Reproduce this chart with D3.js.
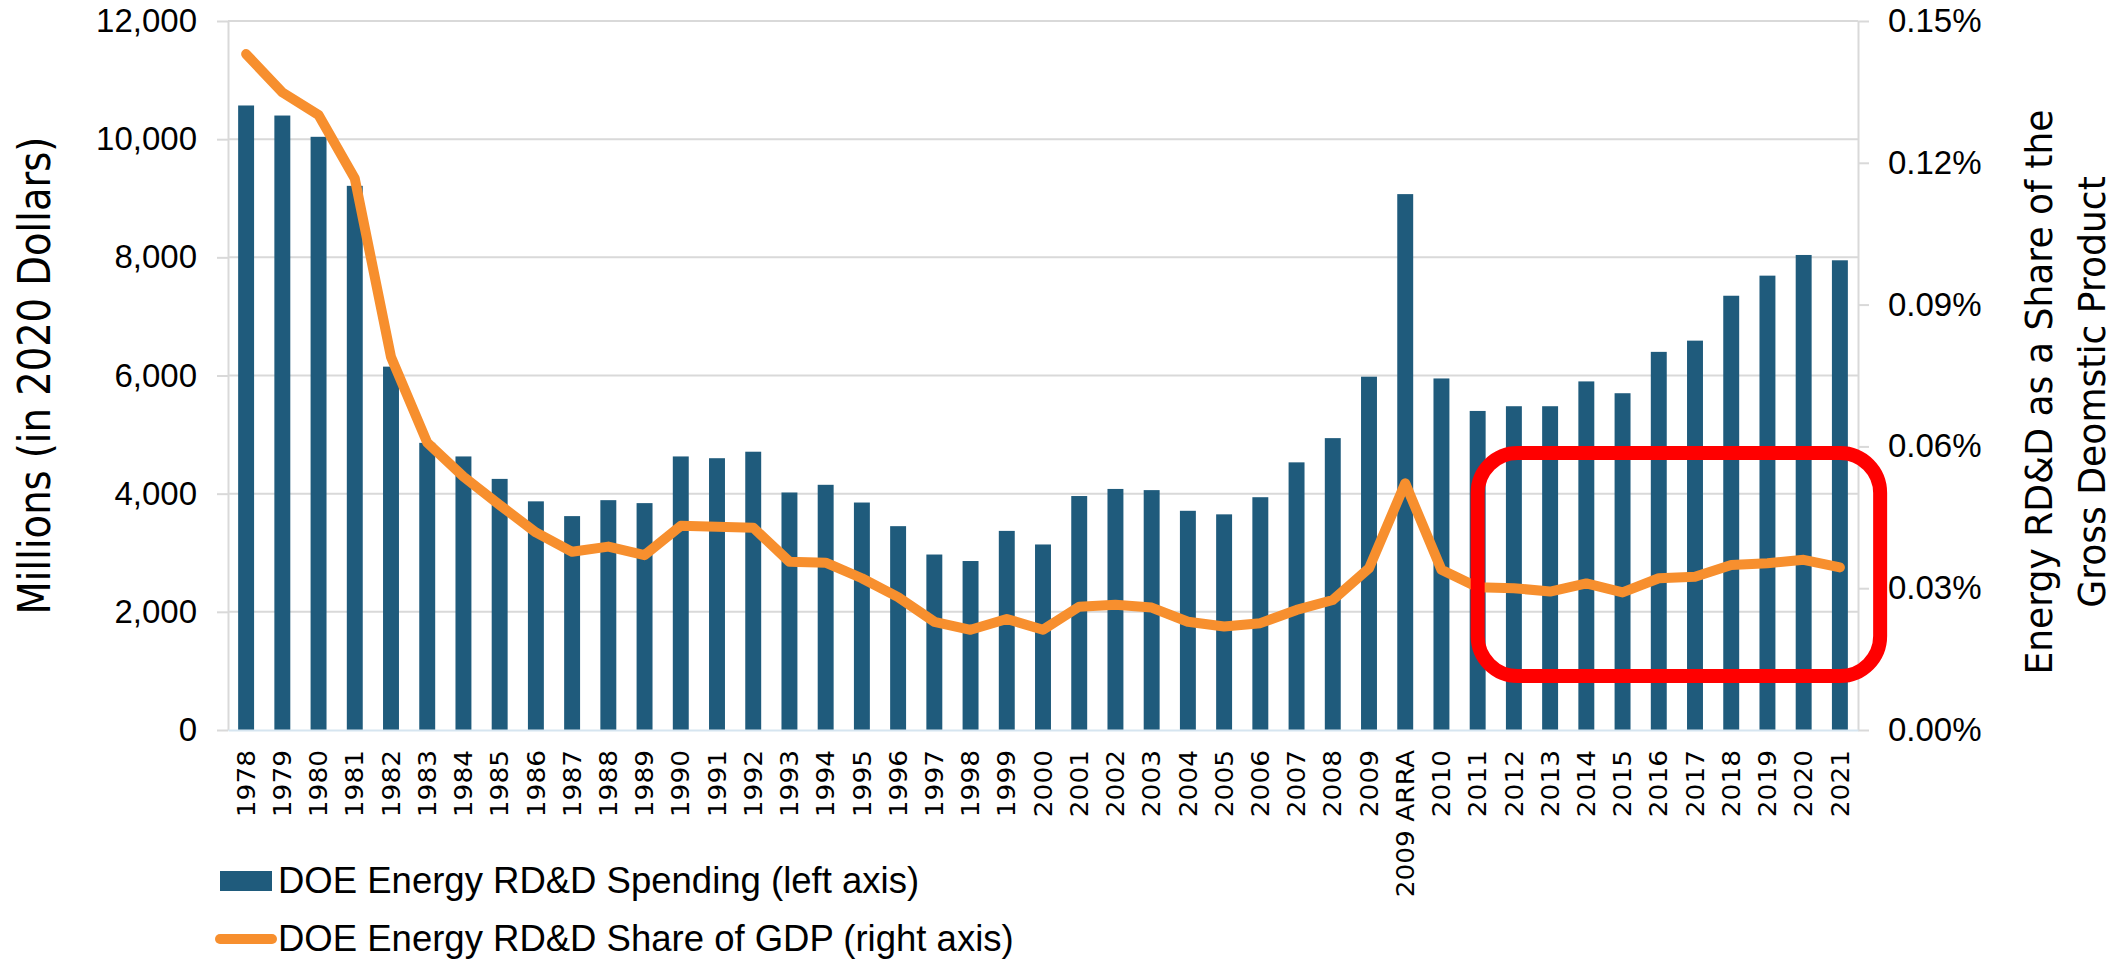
<!DOCTYPE html>
<html>
<head>
<meta charset="utf-8">
<script src="https://cdn.jsdelivr.net/npm/d3@7"></script>
<style>
  body { margin: 0; background: #fff; }
  .tick text { font-family: "Liberation Sans", Arial, sans-serif; font-size: 33px; fill: #000; }
  .xAxis .tick text { font-family: "DejaVu Sans", sans-serif; font-size: 24px; }
  .title { font-family: "DejaVu Sans", sans-serif; fill: #000; }
  .legend text { font-family: "Liberation Sans", Arial, sans-serif; font-size: 36.5px; fill: #000; }
</style>
</head>
<body>
<div id="chart"></div>
<script>
// categories (fiscal years, with the ARRA stimulus as its own column)
var years = ["1978", "1979", "1980", "1981", "1982", "1983", "1984", "1985", "1986", "1987",
  "1988", "1989", "1990", "1991", "1992", "1993", "1994", "1995", "1996", "1997",
  "1998", "1999", "2000", "2001", "2002", "2003", "2004", "2005", "2006", "2007",
  "2008", "2009", "2009 ARRA", "2010", "2011", "2012", "2013", "2014", "2015", "2016",
  "2017", "2018", "2019", "2020", "2021"];

// DOE energy RD&D spending, millions of 2020 dollars (left axis)
var spending = [10570, 10400, 10040, 9210, 6150, 4860, 4630, 4250, 3870, 3620,
  3890, 3840, 4630, 4600, 4710, 4020, 4150, 3850, 3450, 2970,
  2860, 3370, 3140, 3960, 4080, 4060, 3710, 3650, 3940, 4530,
  4940, 5980, 9070, 5950, 5400, 5480, 5480, 5900, 5700, 6400,
  6590, 7350, 7690, 8040, 7950];

// DOE energy RD&D as share of GDP, percent (right axis)
var gdpShare = [0.1430, 0.1349, 0.1301, 0.1167, 0.0789, 0.0608, 0.0536, 0.0476, 0.0418, 0.0377,
  0.0388, 0.0370, 0.0432, 0.0430, 0.0428, 0.0356, 0.0354, 0.0321, 0.0281, 0.0229,
  0.0212, 0.0235, 0.0212, 0.0261, 0.0265, 0.0259, 0.0229, 0.0219, 0.0226, 0.0254,
  0.0275, 0.0342, 0.0522, 0.0339, 0.0302, 0.0300, 0.0293, 0.0310, 0.0291, 0.0321,
  0.0324, 0.0349, 0.0353, 0.0360, 0.0344];

var leftTicks = [0, 2000, 4000, 6000, 8000, 10000, 12000];
var rightTicks = [0, 0.03, 0.06, 0.09, 0.12, 0.15];
var seriesNames = ["DOE Energy RD&D Spending (left axis)", "DOE Energy RD&D Share of GDP (right axis)"];
var leftTitle = "Millions (in 2020 Dollars)";
var rightTitle = ["Energy RD&D as a Share of the", "Gross Deomstic Product"];

// highlighted period (red box), in right-axis units
var highlight = { from: "2011", to: "2021", top: 0.0586, bottom: 0.0114 };

var Width = 2126;
var Height = 961;
var plotLeft = 228, plotRight = 1858, plotTop = 21, plotBottom = 730;

var barColor = "#1f5b7c";
var lineColor = "#f78f2e";
var gridColor = "#d9d9d9";

var svg = d3.select("#chart")
  .append("svg")
  .attr("width", Width)
  .attr("height", Height);

var x = d3.scaleBand()
  .domain(years)
  .range([plotLeft, plotRight])
  .paddingInner(0.56)
  .paddingOuter(0.28);

var yLeft = d3.scaleLinear().domain([0, 12000]).range([plotBottom, plotTop]);
var yRight = d3.scaleLinear().domain([0, 0.15]).range([plotBottom, plotTop]);

// gridlines
svg.append("g")
  .selectAll("line")
  .data(leftTicks.slice(1))
  .enter()
  .append("line")
  .attr("x1", plotLeft)
  .attr("x2", plotRight)
  .attr("y1", function(d) { return yLeft(d); })
  .attr("y2", function(d) { return yLeft(d); })
  .attr("stroke", gridColor)
  .attr("stroke-width", 2);

// left axis
var leftAxis = svg.append("g")
  .attr("class", "yAxis")
  .attr("transform", "translate(" + plotLeft + ",0)")
  .call(d3.axisLeft(yLeft).tickValues(leftTicks).tickFormat(d3.format(",")).tickSize(11).tickSizeOuter(0).tickPadding(20));
leftAxis.selectAll("line, path").attr("stroke", gridColor).attr("stroke-width", 2);

// right axis
var rightAxis = svg.append("g")
  .attr("class", "yAxis2")
  .attr("transform", "translate(" + plotRight + ",0)")
  .call(d3.axisRight(yRight).tickValues(rightTicks).tickSize(11).tickSizeOuter(0).tickPadding(19));
rightAxis.selectAll("text").text(function(d) { return d.toFixed(2) + "%"; });
rightAxis.selectAll("line, path").attr("stroke", gridColor).attr("stroke-width", 2);

// bars
svg.append("g")
  .selectAll("rect")
  .data(spending)
  .enter()
  .append("rect")
  .attr("x", function(d, i) { return x(years[i]); })
  .attr("y", function(d) { return yLeft(d); })
  .attr("width", x.bandwidth())
  .attr("height", function(d) { return yLeft(0) - yLeft(d); })
  .attr("fill", barColor);

// bottom axis
var xAxis = svg.append("g")
  .attr("class", "xAxis")
  .attr("transform", "translate(0," + plotBottom + ")")
  .call(d3.axisBottom(x).tickSize(0).tickSizeOuter(0));
xAxis.select("path").attr("stroke", "#d6e5f0").attr("stroke-width", 2);
xAxis.selectAll("text")
  .attr("x", 0)
  .attr("y", 0)
  .attr("dy", "0.36em")
  .attr("text-anchor", "end")
  .attr("transform", "rotate(-90) translate(-20,0) scale(1.1,1)");

// share of GDP line
var line = d3.line()
  .x(function(d, i) { return x(years[i]) + x.bandwidth() / 2; })
  .y(function(d) { return yRight(d); });

svg.append("path")
  .datum(gdpShare)
  .attr("d", line)
  .attr("fill", "none")
  .attr("stroke", lineColor)
  .attr("stroke-width", 10)
  .attr("stroke-linejoin", "round")
  .attr("stroke-linecap", "round");

// red highlight box
var boxLeft = x(highlight.from) + x.bandwidth() / 2;
var boxRight = x(highlight.to) + x.step() + 12;
svg.append("rect")
  .attr("x", boxLeft)
  .attr("y", yRight(highlight.top))
  .attr("width", boxRight - boxLeft)
  .attr("height", yRight(highlight.bottom) - yRight(highlight.top))
  .attr("rx", 40)
  .attr("ry", 40)
  .attr("fill", "none")
  .attr("stroke", "#ff0000")
  .attr("stroke-width", 14);

// axis titles
svg.append("text")
  .attr("class", "title")
  .attr("transform", "translate(50," + (plotTop + plotBottom) / 2 + ") rotate(-90) scale(0.875,1)")
  .attr("text-anchor", "middle")
  .attr("font-size", 44)
  .text(leftTitle);

svg.append("g")
  .selectAll("text")
  .data(rightTitle)
  .enter()
  .append("text")
  .attr("class", "title")
  .attr("transform", function(d, i) {
    return "translate(" + (2052 + i * 53) + ",392) rotate(-90) scale(0.95,1)";
  })
  .attr("text-anchor", "middle")
  .attr("font-size", 38)
  .text(function(d) { return d; });

// legend
var legend = svg.append("g").attr("class", "legend");
legend.append("rect")
  .attr("x", 220)
  .attr("y", 871)
  .attr("width", 52)
  .attr("height", 20)
  .attr("fill", barColor);
legend.append("line")
  .attr("x1", 220)
  .attr("x2", 272)
  .attr("y1", 939)
  .attr("y2", 939)
  .attr("stroke", lineColor)
  .attr("stroke-width", 10)
  .attr("stroke-linecap", "round");
legend.selectAll("text")
  .data(seriesNames)
  .enter()
  .append("text")
  .attr("x", 278)
  .attr("y", function(d, i) { return 893 + i * 58; })
  .text(function(d) { return d; });
</script>
</body>
</html>
